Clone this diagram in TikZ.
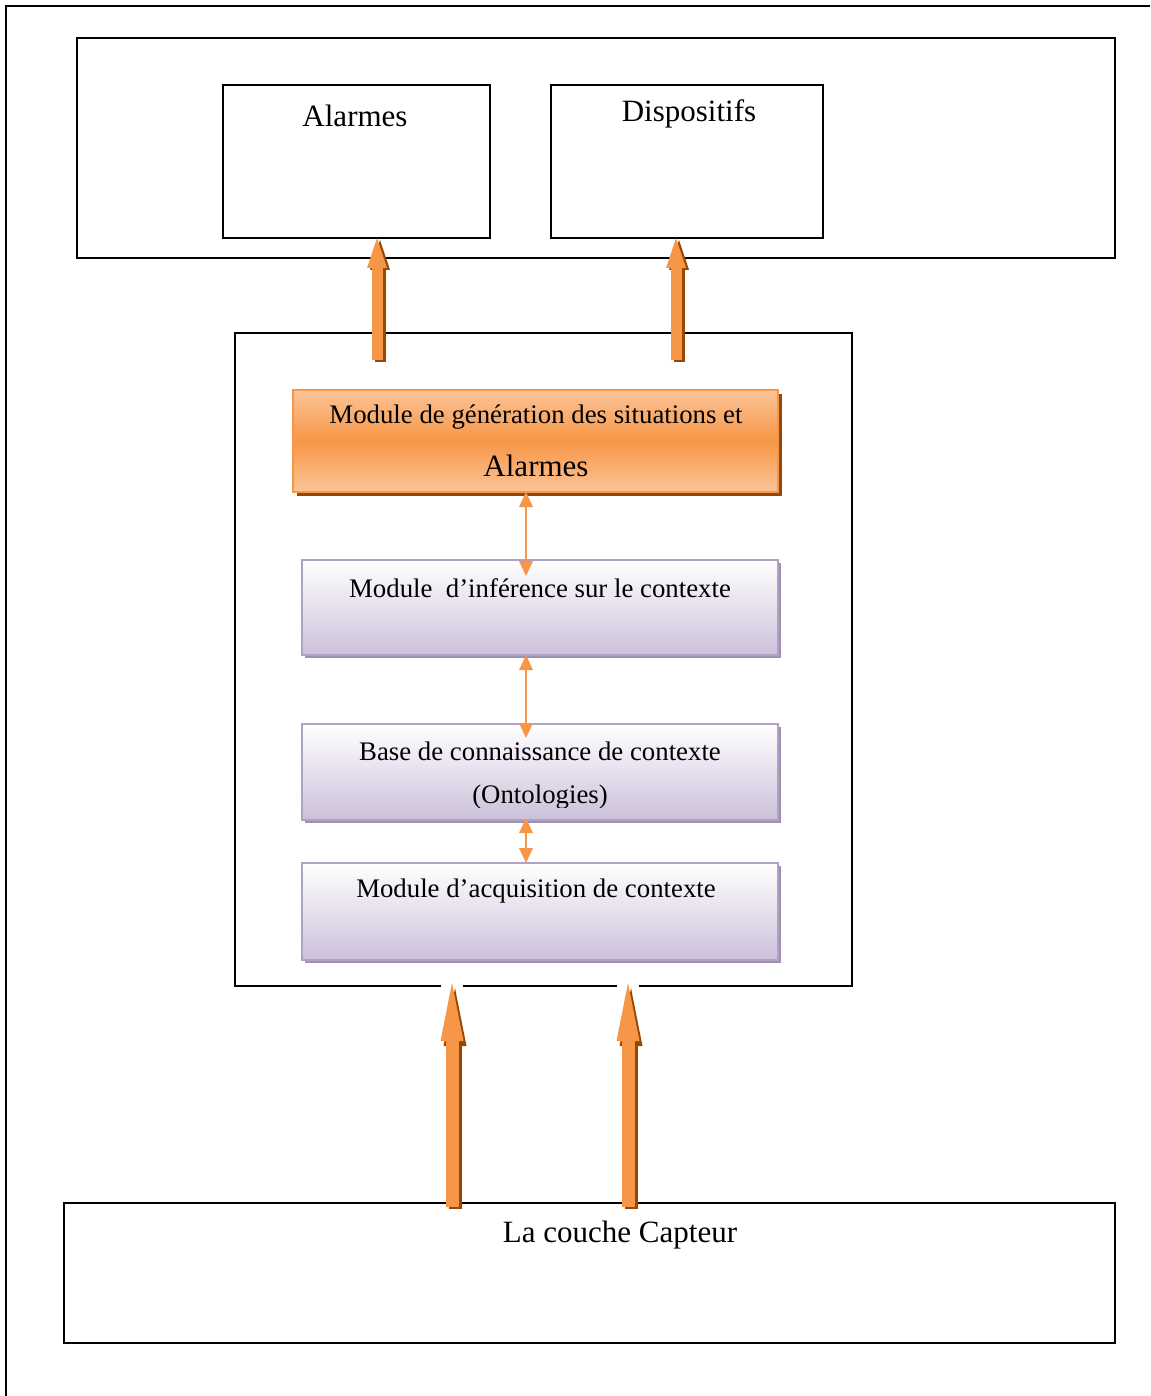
\documentclass[tikz,border=0pt]{standalone}
\usepackage{fontspec}
\setmainfont{Liberation Serif}
\usetikzlibrary{arrows.meta,shadows}
\definecolor{orangemain}{RGB}{247,150,70}
\definecolor{orangelight}{RGB}{251,196,152}
\definecolor{orangedark}{RGB}{152,72,6}
\definecolor{lavender}{RGB}{204,192,218}
\definecolor{lavborder}{RGB}{178,161,199}
\definecolor{lavshadow}{RGB}{158,146,174}
\tikzset{
  frame/.style={draw=black, line width=1.6pt, inner sep=0pt, outer sep=0pt, anchor=north west},
  genbox/.style={draw=orangemain, line width=2pt, inner sep=0pt, outer sep=0pt, anchor=north west,
    top color=orangelight, bottom color=orangelight, middle color=orangemain,
    drop shadow={shadow xshift=4pt, shadow yshift=-4pt, fill=orangedark, opacity=1}},
  modbox/.style={draw=lavborder, line width=2pt, inner sep=0pt, outer sep=0pt, anchor=north west,
    top color=white, bottom color=lavender,
    drop shadow={shadow xshift=3pt, shadow yshift=-3pt, fill=lavshadow, opacity=1}},
  bigtext/.style={font=\fontsize{31}{36}\selectfont, inner sep=0pt},
  smalltext/.style={font=\fontsize{26.8}{31}\selectfont, inner sep=0pt},
  upshadow/.style={draw=orangedark, line width=#1, line cap=butt},
  uparrow/.style={draw=orangemain, line width=#1, line cap=butt},
  dbl/.style={draw=orangemain, line width=2pt,
    {Triangle[width=14pt,length=15pt,line width=0pt]}-{Triangle[width=14pt,length=15pt,line width=0pt]}},
}
\begin{document}
\begin{tikzpicture}[x=1pt,y=-1pt]
\useasboundingbox (0,0) rectangle (1150,1396);

% page frame (open to the right and below)
\draw[line width=1.6pt] (6,1396) -- (6,6) -- (1150,6);

% output layer
\node[frame, minimum width=1038pt, minimum height=220pt] (top) at (77,38) {};
\node[frame, minimum width=267pt, minimum height=153pt] (alarm) at (223,85) {};
\node[frame, minimum width=272pt, minimum height=153pt] (disp) at (551,85) {};
\node[bigtext] (alarmT) at (355,116) {Alarmes};
\node[bigtext] (dispT) at (689,114) {Dispositifs};

% middleware
\node[frame, minimum width=617pt, minimum height=653pt] (mid) at (235,333) {};

\node[genbox, minimum width=485pt, minimum height=102pt] (gen) at (293,390) {};
\node[smalltext] (genT1) at (536,417) {Module de génération des situations et};
\node[bigtext] (genT2) at (536,466) {Alarmes};

\node[modbox, minimum width=476pt, minimum height=95pt] (inf) at (302,560) {};
\node[smalltext] (infT) at (540,588) {Module\ \ d’inférence sur le contexte};

\node[modbox, minimum width=476pt, minimum height=96pt] (base) at (302,724) {};
\node[smalltext] (baseT) at (540,751) {Base de connaissance de contexte};
\begin{scope}
  \clip (302,724) rectangle (778,807);
  \node[smalltext] (baseT2) at (540,797) {(Ontologies)};
\end{scope}

\node[modbox, minimum width=476pt, minimum height=97pt] (acq) at (302,863) {};
\node[smalltext] (acqT) at (536,891) {Module d’acquisition de contexte};

% sensor layer
\node[frame, minimum width=1051pt, minimum height=140pt] (capt) at (64,1203) {};
\node[bigtext] (captT) at (620,1235) {La couche Capteur};

% arrows between the modules
\coordinate (d1) at (526,576);
\coordinate (d2) at (526,738);
\coordinate (d3) at (526,863);
\draw[dbl] (d1 |- gen.south) -- (d1);
\draw[dbl] (526,655) -- (d2);
\draw[dbl] (526,818) -- (d3);

% block arrows to the output layer
\coordinate (u1) at (377,360);
\coordinate (u2) at (676,360);
\foreach \c/\t in {u1/alarm, u2/disp}{
  \draw[upshadow=11pt, -{Triangle[width=20pt,length=30pt,line width=0pt]}]
    ([shift={(3,2)}]\c) -- ([shift={(3,2)}]\c |- \t.south);
  \draw[uparrow=11pt, -{Triangle[width=20pt,length=30pt,line width=0pt]}]
    (\c) -- (\c |- \t.south);
}

% block arrows from the sensor layer
\coordinate (b1) at (452,1207);
\coordinate (b2) at (628,1207);
\foreach \c in {b1, b2}{
  \fill[white] ([shift={(-11,-2)}]\c |- mid.south) rectangle ([shift={(11,2)}]\c |- mid.south);
  \draw[upshadow=13pt, -{Triangle[width=23pt,length=58pt,line width=0pt]}]
    ([shift={(3,2)}]\c) -- ([shift={(3,2)}]\c |- mid.south);
  \draw[uparrow=13pt, -{Triangle[width=23pt,length=58pt,line width=0pt]}]
    (\c) -- ([yshift=3pt]\c |- mid.south);
}
\end{tikzpicture}
\end{document}
